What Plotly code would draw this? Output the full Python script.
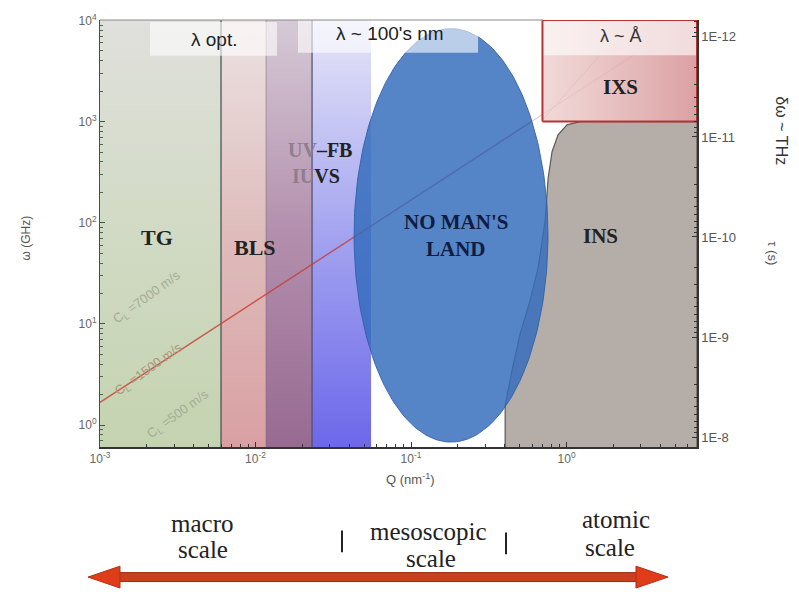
import numpy as np
import plotly.graph_objects as go

# ---- data: momentum transfer Q (nm^-1), frequency omega (GHz), time tau (s) ----
Q_RANGE = [1e-3, 6.9]
W_RANGE = [0.608, 10100]
TAU_RANGE = [1.256e-8, 6.78e-13]

# technique windows along Q
TG_Q = [1e-3, 0.0060]
BLS_Q = [0.0060, 0.0117]
OVERLAP_Q = [0.0117, 0.0231]
UVFB_Q = [0.0231, 0.0553]

# inelastic X-ray scattering window
IXS_Q = [0.70, 6.9]
IXS_W = [1000, 10100]
IXS_LABEL_W = 4530          # lower edge of the wavelength strip

# bounding extent of the unexplored region
NML_Q = [0.043, 0.76]
NML_W = [0.68, 8300]

# inelastic neutron scattering region boundary
INS_Q = [0.403, 0.403, 0.446, 0.503, 0.582, 0.656, 0.728, 0.761, 0.807, 0.882, 1.007, 1.22, 6.9, 6.9]
INS_W = [0.608, 1.57, 3.47, 8.0, 16.9, 35.7, 103, 274, 504, 741, 929, 1000, 1000, 0.608]

# linear dispersion, c_L = 1500 m/s
SOUND_Q = [1e-3, 0.595, 2.7]
SOUND_W = [1.68, 1000, 4540]
# steeper branch inside the IXS window
DISP_Q = [0.70, 1.64]
DISP_W = [1040, 4530]

X_TICKS = [1e-3, 1e-2, 1e-1, 1]
X_TICKTEXT = ["10<sup>-3</sup>", "10<sup>-2</sup>", "10<sup>-1</sup>", "10<sup>0</sup>"]
Y_TICKS = [1, 10, 100, 1000, 10000]
Y_TICKTEXT = ["10<sup>0</sup>", "10<sup>1</sup>", "10<sup>2</sup>", "10<sup>3</sup>", "10<sup>4</sup>"]
TAU_TICKS = [1e-12, 1e-11, 1e-10, 1e-9, 1e-8]
TAU_TICKTEXT = ["1E-12", "1E-11", "1E-10", "1E-9", "1E-8"]

SERIF = "Liberation Serif"
SANS = "Liberation Sans"

W, H = 799, 592
ML, MR, MT, MB = 100, 102, 17, 145
PW, PH = W - ML - MR, H - MT - MB


def px(x):
    return (x - ML) / PW


def py(y):
    return (H - MB - y) / PH


def rect(q, w):
    return [q[0], q[1], q[1], q[0], q[0]], [w[0], w[0], w[1], w[1], w[0]]


fig = go.Figure()


def band(q, colors, name):
    xs, ys = rect(q, W_RANGE)
    fig.add_trace(go.Scatter(
        x=xs, y=ys, mode="lines", fill="toself", name=name,
        line=dict(width=0),
        fillgradient=dict(type="vertical", colorscale=colors),
        hoverinfo="skip", showlegend=False))


band(TG_Q, [[0, "#c4d3b0"], [0.5, "#d1dac4"], [1, "#e0e0dc"]], "TG")
band(BLS_Q, [[0, "#d9a0a2"], [0.5, "#dfbcbc"], [1, "#ece2e2"]], "BLS")
band(OVERLAP_Q, [[0, "#976a92"], [0.5, "#b38fad"], [1, "#d6cad6"]], "BLS/UV")
band(UVFB_Q, [[0, "#6c68ea"], [0.5, "#a4a4f0"], [1, "#e6e6f8"]], "UV-FB")

# band dividers
for q, c in [(TG_Q[1], "#3f4c48"), (OVERLAP_Q[0], "rgba(90,60,80,0.35)"), (UVFB_Q[0], "#4c4c6e")]:
    fig.add_trace(go.Scatter(x=[q, q], y=W_RANGE, mode="lines",
                             line=dict(color=c, width=1.2),
                             hoverinfo="skip", showlegend=False))

# sound line across the chart
fig.add_trace(go.Scatter(x=SOUND_Q[:2], y=SOUND_W[:2], mode="lines",
                         line=dict(color="rgba(200,60,50,0.8)", width=1.4),
                         hoverinfo="skip", showlegend=False))
fig.add_trace(go.Scatter(x=SOUND_Q[1:], y=SOUND_W[1:], mode="lines",
                         line=dict(color="rgba(200,90,90,0.45)", width=1),
                         hoverinfo="skip", showlegend=False))
fig.add_trace(go.Scatter(x=DISP_Q, y=DISP_W, mode="lines",
                         line=dict(color="rgba(170,110,110,0.45)", width=1),
                         hoverinfo="skip", showlegend=False))

# INS region
fig.add_trace(go.Scatter(x=INS_Q, y=INS_W, mode="lines", fill="toself",
                         fillcolor="#b5ada8",
                         line=dict(color="#5e5854", width=1.2),
                         hoverinfo="skip", showlegend=False))

# no man's land ellipse, built in log space
lq = np.log10(NML_Q)
lw = np.log10(NML_W)
t = np.linspace(0, 2 * np.pi, 241)
eq = 10 ** (lq.mean() + (lq[1] - lq[0]) / 2 * np.cos(t))
ew = 10 ** (lw.mean() + (lw[1] - lw[0]) / 2 * np.sin(t))
fig.add_trace(go.Scatter(x=eq, y=ew, mode="lines", fill="toself",
                         fillcolor="rgba(52,108,188,0.84)",
                         line=dict(color="rgba(50,95,170,0.9)", width=1),
                         hoverinfo="skip", showlegend=False))

# IXS window
xs, ys = rect(IXS_Q, IXS_W)
fig.add_trace(go.Scatter(x=xs, y=ys, mode="lines", fill="toself",
                         line=dict(width=0),
                         fillgradient=dict(type="horizontal",
                                           colorscale=[[0, "rgba(238,206,206,0.78)"],
                                                       [1, "rgba(214,148,150,0.88)"]]),
                         hoverinfo="skip", showlegend=False))
xs, ys = rect(IXS_Q, [IXS_LABEL_W, IXS_W[1]])
fig.add_trace(go.Scatter(x=xs, y=ys, mode="lines", fill="toself",
                         fillcolor="rgba(255,255,255,0.62)", line=dict(width=0),
                         hoverinfo="skip", showlegend=False))
xs, ys = rect(IXS_Q, IXS_W)
fig.add_trace(go.Scatter(x=xs, y=ys, mode="lines",
                         line=dict(color="#b83434", width=2),
                         hoverinfo="skip", showlegend=False))

# invisible trace to carry the tau axis
fig.add_trace(go.Scatter(x=[Q_RANGE[0]], y=[TAU_TICKS[0]], yaxis="y2",
                         mode="markers", marker=dict(opacity=0),
                         hoverinfo="skip", showlegend=False))

shapes = []
# translucent header boxes
for x0, x1, y0, y1 in [(150, 277, 19, 53), (298, 478, 17, 50)]:
    shapes.append(dict(type="rect", xref="paper", yref="paper",
                       x0=px(x0), x1=px(x1), y0=py(y1), y1=py(y0),
                       fillcolor="rgba(255,255,255,0.6)", line=dict(width=0),
                       layer="above"))
# top frame line
shapes.append(dict(type="line", xref="paper", yref="paper", x0=0, x1=px(543),
                   y0=1, y1=1, line=dict(color="#8a8a8a", width=1), layer="above"))


# scale arrow
def path(pts):
    return "M " + " L ".join(f"{px(a):.5f},{py(b):.5f}" for a, b in pts) + " Z"


shapes.append(dict(type="path", xref="paper", yref="paper",
                   path=path([(116, 573.5), (640, 573.5), (640, 582.5), (116, 582.5)]),
                   fillcolor="#c9401f", line=dict(color="#9c2a12", width=1)))
shapes.append(dict(type="path", xref="paper", yref="paper",
                   path=path([(88, 578), (120, 567), (120, 589)]),
                   fillcolor="#e03c1a", line=dict(color="#b03012", width=1)))
shapes.append(dict(type="path", xref="paper", yref="paper",
                   path=path([(668, 578), (636, 567), (636, 589)]),
                   fillcolor="#e03c1a", line=dict(color="#b03012", width=1)))
for x, y0, y1 in [(342, 531, 553), (506, 533, 555)]:
    shapes.append(dict(type="line", xref="paper", yref="paper",
                       x0=px(x), x1=px(x), y0=py(y0), y1=py(y1),
                       line=dict(color="#222", width=2)))

ann = []


def label(text, x, y, size, color="#222", family=SERIF, angle=0):
    ann.append(dict(text=text, x=px(x), y=py(y), xref="paper", yref="paper",
                    showarrow=False, textangle=angle,
                    font=dict(family=family, size=size, color=color),
                    xanchor="center", yanchor="middle"))


B = lambda s: f"<b>{s}</b>"
label(B("TG"), 157, 236, 22)
label(B("BLS"), 255, 246, 22)
label(B('<span style="color:#8e7e8e">UV</span>–FB'), 320, 148, 20)
label(B('<span style="color:#8e7e8e">IU</span>VS'), 316, 174, 20)
label(B("NO MAN'S"), 456, 220, 21, color="#101c40")
label(B("LAND"), 456, 248, 21, color="#101c40")
label(B("INS"), 600, 235, 21)
label(B("IXS"), 620, 84, 21)
label("λ ~ Å", 621, 33, 18, color="#333", family=SANS)
label("λ opt.", 214, 37, 19, color="#222", family=SANS)
label("λ ~ 100's nm", 390, 31, 19, color="#222", family=SANS)

label("C<sub>L</sub> =7000 m/s", 147, 296, 13, color="#a5ac96", family=SANS, angle=-36)
label("C<sub>L</sub> =1500 m/s", 149, 369, 13, color="#ac9878", family=SANS, angle=-36)
label("C<sub>L</sub> =500 m/s", 178, 414, 13, color="#a5ac96", family=SANS, angle=-36)

label("Q (nm<sup>-1</sup>)", 410, 479, 13, color="#555", family=SANS)
label("ω (GHz)", 26, 237, 12, color="#555", family=SANS, angle=-90)
label("τ (s)", 773, 252, 13, color="#555", family=SANS, angle=90)
label("δω ~ THz", 782, 128, 16, color="#333", family=SANS, angle=90)

label("macro", 202, 524, 25)
label("scale", 203, 550, 25)
label("mesoscopic", 428, 532, 25)
label("scale", 431, 559, 25)
label("atomic", 616, 520, 25)
label("scale", 610, 548, 25)


def minor(color):
    return dict(ticks="inside", ticklen=3, tickcolor=color, dtick="D1", showgrid=False)


fig.update_layout(
    width=W, height=H,
    margin=dict(l=ML, r=MR, t=MT, b=MB),
    paper_bgcolor="white", plot_bgcolor="white",
    shapes=shapes, annotations=ann, showlegend=False,
    xaxis=dict(type="log", range=list(np.log10(Q_RANGE)),
               tickvals=X_TICKS, ticktext=X_TICKTEXT,
               showline=True, linecolor="#333", linewidth=1.5,
               ticks="inside", ticklen=5, tickcolor="#333",
               minor=minor("#333"),
               showgrid=False, zeroline=False,
               tickfont=dict(family=SANS, size=12, color="#666")),
    yaxis=dict(type="log", range=list(np.log10(W_RANGE)),
               tickvals=Y_TICKS, ticktext=Y_TICKTEXT,
               showline=True, linecolor="#3b5a3b", linewidth=1,
               ticks="inside", ticklen=5, tickcolor="#3b5a3b",
               minor=minor("#4a6a4a"),
               showgrid=False, zeroline=False,
               tickfont=dict(family=SANS, size=12, color="#666")),
    yaxis2=dict(type="log", overlaying="y", side="right",
                range=list(np.log10(TAU_RANGE)),
                tickvals=TAU_TICKS, ticktext=TAU_TICKTEXT,
                showline=True, linecolor="#333", linewidth=1.5,
                ticks="inside", ticklen=5, tickcolor="#333",
                minor=minor("#333"),
                showgrid=False, zeroline=False,
                tickfont=dict(family=SANS, size=13, color="#555")),
)

fig.write_html("out.html")
